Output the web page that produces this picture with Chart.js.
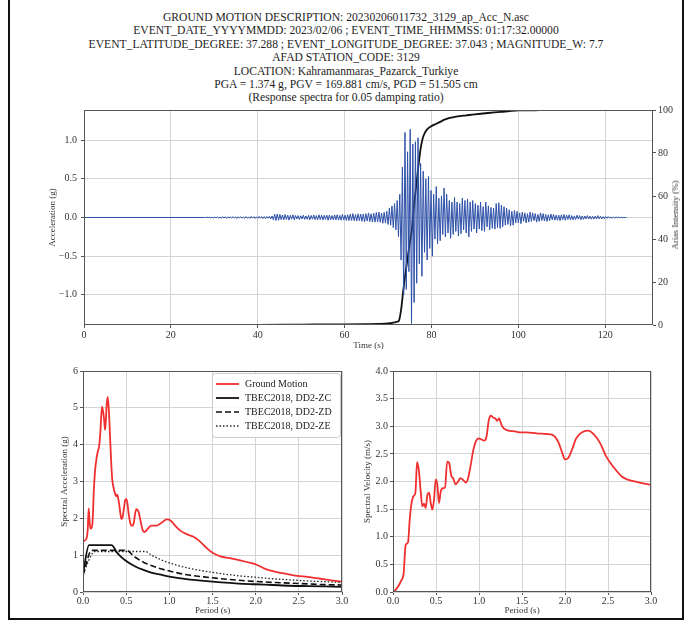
<!DOCTYPE html>
<html>
<head>
<meta charset="utf-8">
<script src="https://cdn.jsdelivr.net/npm/chart.js@4.4.0/dist/chart.umd.min.js"></script>
<style>
  body { margin: 0; background: #fff; width: 687px; height: 623px; position: relative; overflow: hidden; font-family: 'Liberation Serif', 'Times New Roman', serif; }
  #frame { position: absolute; left: 8px; top: -4px; width: 676px; height: 624px; border: 2px solid #111; box-sizing: border-box; pointer-events: none; }
  #title { position: absolute; left: 0; width: 692px; top: 11px; text-align: center; font-size: 11.6px; line-height: 13.4px; color: #1e1e1e; }
  #ariasLabel { position: absolute; left: 675px; top: 215px; transform: translate(-50%, -50%) rotate(-90deg); font-size: 9px; color: #333; white-space: nowrap; }
  canvas { position: absolute; }
</style>
</head>
<body>
<div id="title">
  GROUND MOTION DESCRIPTION: 20230206011732_3129_ap_Acc_N.asc<br>
  EVENT_DATE_YYYYMMDD: 2023/02/06 ; EVENT_TIME_HHMMSS: 01:17:32.00000<br>
  EVENT_LATITUDE_DEGREE: 37.288 ; EVENT_LONGITUDE_DEGREE: 37.043 ; MAGNITUDE_W: 7.7<br>
  AFAD STATION_CODE: 3129<br>
  LOCATION: Kahramanmaras_Pazarck_Turkiye<br>
  PGA = 1.374 g, PGV = 169.881 cm/s, PGD = 51.505 cm<br>
  (Response spectra for 0.05 damping ratio)
</div>
<canvas id="accChart" width="677" height="255" style="left:10px;top:100px"></canvas>
<div id="ariasLabel">Arias Intensity (%)</div>
<canvas id="saChart" width="340" height="260" style="left:10px;top:360px"></canvas>
<canvas id="svChart" width="335" height="260" style="left:350px;top:360px"></canvas>
<div id="frame"></div>

<script>
// ---- acceleration record (g), sampled every 0.3 s from 28 s ----
const quietTime = [0, 27.7]
const quietAcc = [0, 0]
const accStart = 28
const accStep = 0.3
const accValues = [
  0, 0.004, -0.003, 0.005, -0.004, 0.003, -0.006, 0.004, -0.002, 0.005,
  -0.008, 0.006, -0.01, 0.012, -0.007, 0.009, -0.011, 0.008, -0.005, 0.007,
  -0.009, 0.011, -0.006, 0.008, -0.012, 0.01, -0.007, 0.009, -0.008, 0.006,
  -0.01, 0.012, -0.009, 0.007, -0.011, 0.013, -0.008, 0.01, -0.012, 0.009,
  -0.011, 0.014, -0.01, 0.012, -0.013, 0.011, -0.015, 0.012, -0.01, 0.016,
  -0.018, 0.02, -0.03, 0.042, -0.038, 0.045, -0.035, 0.04, -0.028, 0.032,
  -0.03, 0.038, -0.025, 0.03, -0.034, 0.028, -0.022, 0.035, -0.03, 0.026,
  -0.02, 0.025, -0.028, 0.022, -0.018, 0.03, -0.025, 0.02, -0.024, 0.028,
  -0.03, 0.026, -0.022, 0.032, -0.028, 0.024, -0.03, 0.035, -0.026, 0.03,
  -0.032, 0.028, -0.025, 0.03, -0.036, 0.032, -0.028, 0.025, -0.03, 0.034,
  -0.03, 0.036, -0.033, 0.028, -0.035, 0.04, -0.032, 0.03, -0.038, 0.035,
  -0.04, 0.045, -0.038, 0.05, -0.042, 0.038, -0.045, 0.048, -0.04, 0.044,
  -0.05, 0.046, -0.055, 0.05, -0.045, 0.06, -0.052, 0.048, -0.058, 0.055,
  -0.06, 0.065, -0.055, 0.07, -0.062, 0.058, -0.075, 0.068, -0.07, 0.08,
  -0.09, 0.12, -0.1, 0.15, -0.13, 0.18, -0.16, 0.22, -0.25, 0.3,
  -0.55, 0.65, -1.0, 1.1, -0.93, 0.85, -0.7, 1.14, -1.37, 0.95,
  -1.1, 0.98, -0.85, 1.03, -0.6, 0.7, -0.76, 0.6, -0.45, 0.5,
  -0.55, 0.53, -0.4, 0.35, -0.5, 0.3, -0.28, 0.4, -0.34, 0.25,
  -0.3, 0.28, -0.22, 0.38, -0.25, 0.3, -0.2, 0.22, -0.27, 0.2,
  -0.22, 0.26, -0.18, 0.2, -0.24, 0.18, -0.21, 0.25, -0.16, 0.22,
  -0.2, 0.24, -0.25, 0.2, -0.18, 0.22, -0.15, 0.18, -0.2, 0.16,
  -0.15, 0.2, -0.17, 0.14, -0.18, 0.2, -0.12, 0.15, -0.16, 0.13,
  -0.14, 0.12, -0.15, 0.18, -0.13, 0.19, -0.14, 0.16, -0.12, 0.14,
  -0.1, 0.12, -0.09, 0.1, -0.11, 0.08, -0.1, 0.09, -0.07, 0.08,
  -0.07, 0.06, -0.08, 0.07, -0.05, 0.06, -0.07, 0.05, -0.06, 0.07,
  -0.05, 0.06, -0.04, 0.05, -0.06, 0.04, -0.05, 0.06, -0.04, 0.05,
  -0.045, 0.04, -0.05, 0.035, -0.04, 0.045, -0.03, 0.04, -0.035, 0.03,
  -0.035, 0.03, -0.04, 0.035, -0.03, 0.04, -0.035, 0.03, -0.025, 0.035,
  -0.03, 0.025, -0.03, 0.02, -0.025, 0.03, -0.02, 0.025, -0.03, 0.02,
  -0.025, 0.02, -0.018, 0.025, -0.02, 0.018, -0.022, 0.015, -0.02, 0.018,
  -0.02, 0.025, -0.018, 0.015, -0.02, 0.012, -0.015, 0.012, -0.01, 0.012,
  -0.01, 0.008, -0.01, 0.007, -0.006, 0.008, -0.005, 0.006, -0.004, 0.003,
  -0.003, 0.002, -0.001, 0
]

// ---- Arias intensity (%) ----
const ariasTime = [0, 20, 40, 50, 60, 65, 68, 70, 71, 72, 72.5, 73, 73.5, 74, 74.5, 75, 75.5, 76, 76.5, 77,
  77.5, 78, 78.5, 79, 80, 81, 82, 83, 84, 86, 88, 90, 93, 96, 98, 100, 105, 110, 125]
const ariasValues = [0, 0, 0.1, 0.2, 0.3, 0.4, 0.5, 0.7, 1.0, 1.5, 2, 7, 16, 24, 31, 38, 45, 56, 65, 74,
  82, 87, 89.5, 91, 92.5, 93.5, 94.5, 95.5, 96.2, 97, 97.5, 98, 98.6, 99.1, 99.5, 99.8, 99.9, 100, 100]

// ---- spectral acceleration (g) ----
const saPeriod = [
  0.0, 0.02, 0.04, 0.055, 0.066, 0.078, 0.09, 0.105, 0.115, 0.124,
  0.14, 0.155, 0.17, 0.186, 0.2, 0.22, 0.232, 0.244, 0.255, 0.263,
  0.275, 0.286, 0.298, 0.31, 0.325, 0.337, 0.352, 0.368, 0.382, 0.395,
  0.405, 0.418, 0.432, 0.445, 0.46, 0.476, 0.49, 0.503, 0.515, 0.53,
  0.545, 0.56, 0.575, 0.59, 0.605, 0.62, 0.635, 0.647, 0.665, 0.68,
  0.695, 0.71, 0.73, 0.755, 0.79, 0.85, 0.91, 0.97, 1.01, 1.06,
  1.12, 1.2, 1.28, 1.35, 1.43, 1.51, 1.59, 1.7, 1.82, 1.94,
  2.01, 2.11, 2.21, 2.36, 2.48, 2.6, 2.75, 2.9, 3.0
]
const saGround = [
  1.37, 1.4, 1.45, 1.7, 2.27, 1.85, 1.72, 1.78, 2.1, 2.7,
  3.3, 3.6, 3.8, 3.95, 4.3, 5.03, 4.9, 4.7, 4.4, 4.6,
  5.1, 5.3, 5.0, 4.4, 3.6, 3.1, 2.85, 2.7, 2.6, 2.64,
  2.58, 2.4, 2.15, 1.98, 2.05, 2.3, 2.5, 2.52, 2.4, 2.1,
  1.9, 1.8, 1.8, 1.9, 2.15, 2.25, 2.22, 2.15, 1.95, 1.78,
  1.66, 1.63, 1.66, 1.73, 1.8, 1.8, 1.88, 1.97, 1.95, 1.82,
  1.68, 1.57, 1.5, 1.38, 1.2, 1.05, 0.97, 0.92, 0.86, 0.79,
  0.74, 0.63, 0.56, 0.49, 0.44, 0.41, 0.36, 0.31, 0.28
]
const zcPeriod = [0, 0.07, 0.33, 0.4, 0.5, 0.6, 0.7, 0.8, 0.9, 1.0, 1.2, 1.4, 1.6, 1.8, 2.0, 2.2, 2.4, 2.6, 2.8, 3.0]
const zcSa = [0.5, 1.27, 1.27, 1.05, 0.84, 0.7, 0.6, 0.52, 0.47, 0.42, 0.35, 0.3, 0.26, 0.23, 0.21, 0.19, 0.17, 0.16, 0.15, 0.14]
const zdPeriod = [0, 0.1, 0.5, 0.6, 0.7, 0.8, 0.9, 1.0, 1.2, 1.4, 1.6, 1.8, 2.0, 2.2, 2.4, 2.6, 2.8, 3.0]
const zdSa = [0.45, 1.13, 1.13, 0.95, 0.81, 0.71, 0.63, 0.57, 0.47, 0.41, 0.36, 0.32, 0.285, 0.26, 0.24, 0.22, 0.2, 0.19]
const zePeriod = [0, 0.14, 0.72, 0.8, 0.9, 1.0, 1.2, 1.4, 1.6, 1.8, 2.0, 2.2, 2.4, 2.6, 2.8, 3.0]
const zeSa = [0.5, 1.1, 1.1, 0.99, 0.88, 0.79, 0.66, 0.57, 0.5, 0.44, 0.4, 0.36, 0.33, 0.3, 0.28, 0.26]

// ---- spectral velocity (m/s) ----
const svPeriod = [
  0, 0.047, 0.097, 0.124, 0.147, 0.175, 0.194, 0.213, 0.24, 0.26,
  0.28, 0.3, 0.322, 0.341, 0.361, 0.38, 0.4, 0.42, 0.438, 0.458,
  0.477, 0.497, 0.516, 0.535, 0.555, 0.582, 0.605, 0.63, 0.652, 0.68,
  0.7, 0.726, 0.757, 0.784, 0.815, 0.846, 0.873, 0.904, 0.93, 0.962,
  0.997, 1.03, 1.06, 1.087, 1.114, 1.137, 1.164, 1.19, 1.21, 1.233,
  1.26, 1.288, 1.34, 1.4, 1.475, 1.55, 1.67, 1.785, 1.86, 1.92,
  1.97, 2.0, 2.04, 2.08, 2.13, 2.21, 2.27, 2.33, 2.41, 2.48,
  2.56, 2.66, 2.72, 2.87, 3.0
]
const svValues = [
  0, 0.07, 0.21, 0.34, 0.85, 0.9, 1.3, 1.58, 1.74, 1.79,
  2.35, 2.21, 1.82, 1.55, 1.6, 1.52, 1.76, 1.8, 1.62, 1.49,
  1.67, 2.04, 1.94, 1.61, 1.82, 1.88, 1.89, 2.36, 2.34, 2.09,
  2.06, 1.95, 2.0, 2.06, 2.03, 1.98, 2.06, 2.3, 2.54, 2.72,
  2.78, 2.76, 2.74, 2.81, 3.11, 3.19, 3.16, 3.14, 3.1, 3.14,
  3.03, 2.96, 2.92, 2.91, 2.89, 2.89, 2.87, 2.86, 2.84, 2.72,
  2.51, 2.4, 2.43, 2.57, 2.78, 2.9, 2.92, 2.86, 2.69, 2.45,
  2.27, 2.09, 2.04, 1.98, 1.94
]

// tick positions
const timeTicks = [0, 20, 40, 60, 80, 100, 120]
const accTicks = [-1.0, -0.5, 0.0, 0.5, 1.0]
const ariasTicks = [0, 20, 40, 60, 80, 100]
const periodTicks = [0, 0.5, 1.0, 1.5, 2.0, 2.5, 3.0]
const saTicks = [0, 1, 2, 3, 4, 5, 6]
const svTicks = [0, 0.5, 1.0, 1.5, 2.0, 2.5, 3.0, 3.5, 4.0]

const serif = "'Liberation Serif', 'Times New Roman', serif"
Chart.defaults.font.family = serif
Chart.defaults.color = '#333'
Chart.defaults.animation = false

const gridColor = '#d4d4d4'
const spineColor = '#555'
const red = '#f03030'
// matplotlib style: one decimal and a real minus sign
const oneDecimal = v => (v < 0 ? '\u2212' : '') + Math.abs(v).toFixed(1)

function pts(xs, ys) {
  return xs.map((x, i) => ({ x: x, y: ys[i] }))
}

function setTicks(values) {
  return scale => { scale.ticks = values.map(v => ({ value: v })) }
}

// draw all four spines like matplotlib
const spines = {
  id: 'spines',
  afterDraw(chart) {
    const a = chart.chartArea
    const ctx = chart.ctx
    ctx.save()
    ctx.strokeStyle = spineColor
    ctx.lineWidth = 1
    ctx.strokeRect(Math.round(a.left) + 0.5, Math.round(a.top) + 0.5, Math.round(a.right - a.left) - 1, Math.round(a.bottom - a.top) - 1)
    ctx.restore()
  }
}

// legend drawn inside the plot, upper right
const insideLegend = {
  id: 'insideLegend',
  afterDraw(chart) {
    const a = chart.chartArea
    const ctx = chart.ctx
    const w = 128, h = 64
    const x = a.right - w - 2, y = a.top + 2
    ctx.save()
    ctx.fillStyle = 'rgba(255,255,255,0.85)'
    ctx.strokeStyle = '#cccccc'
    ctx.lineWidth = 1
    ctx.beginPath()
    ctx.roundRect(x + 0.5, y + 0.5, w, h, 3)
    ctx.fill()
    ctx.stroke()
    ctx.font = '10px ' + serif
    ctx.textBaseline = 'middle'
    chart.data.datasets.forEach((ds, i) => {
      const ly = y + 11 + i * 14
      ctx.strokeStyle = ds.borderColor
      ctx.lineWidth = ds.borderWidth
      ctx.setLineDash(ds.borderDash || [])
      ctx.beginPath()
      ctx.moveTo(x + 4, ly)
      ctx.lineTo(x + 27, ly)
      ctx.stroke()
      ctx.setLineDash([])
      ctx.fillStyle = '#222'
      ctx.fillText(ds.label, x + 33, ly)
    })
    ctx.restore()
  }
}

function axis(opts) {
  return {
    type: 'linear',
    position: opts.position,
    min: opts.min,
    max: opts.max,
    afterBuildTicks: setTicks(opts.ticks),
    afterFit: opts.fit,
    border: { display: false },
    grid: {
      display: true,
      drawOnChartArea: opts.grid !== false,
      color: gridColor,
      lineWidth: 1,
      tickLength: 3,
      tickColor: spineColor
    },
    ticks: {
      padding: opts.tickPad,
      color: '#333',
      font: { size: 10, family: serif },
      callback: opts.fmt
    },
    title: {
      display: !!opts.title,
      text: opts.title,
      color: '#333',
      font: { size: 9, family: serif },
      padding: opts.titlePad || 0
    }
  }
}

new Chart(document.getElementById('accChart'), {
  type: 'line',
  data: {
    datasets: [
      {
        label: 'Acceleration',
        data: pts(quietTime, quietAcc).concat(accValues.map((v, i) => ({ x: accStart + i * accStep, y: v }))),
        borderColor: '#2d50a8',
        borderWidth: 1,
        pointRadius: 0,
        yAxisID: 'y'
      },
      {
        label: 'Arias Intensity',
        data: pts(ariasTime, ariasValues),
        borderColor: '#111',
        borderWidth: 1.8,
        pointRadius: 0,
        cubicInterpolationMode: 'monotone',
        yAxisID: 'y1'
      }
    ]
  },
  options: {
    responsive: false,
    layout: { padding: { top: 5, left: 0, right: 0, bottom: 0 } },
    plugins: { legend: { display: false }, tooltip: { enabled: false } },
    scales: {
      x: axis({ position: 'bottom', min: 0, max: 131, ticks: timeTicks, fmt: v => v, tickPad: 1,
        title: 'Time (s)', titlePad: { top: 0, bottom: 4 }, fit: s => { s.height = 30 } }),
      y: axis({ position: 'left', min: -1.39, max: 1.39, ticks: accTicks, fmt: oneDecimal, tickPad: 4,
        title: 'Acceleration (g)', titlePad: { top: 37, bottom: 0 }, fit: s => { s.width = 74 } }),
      y1: axis({ position: 'right', min: 0, max: 100, ticks: ariasTicks, fmt: v => v, tickPad: 2, grid: false,
        fit: s => { s.width = 34 } })
    }
  },
  plugins: [spines]
})

new Chart(document.getElementById('saChart'), {
  type: 'line',
  data: {
    datasets: [
      { label: 'Ground Motion', data: pts(saPeriod, saGround), borderColor: red, borderWidth: 1.8 },
      { label: 'TBEC2018, DD2-ZC', data: pts(zcPeriod, zcSa), borderColor: '#111', borderWidth: 1.8 },
      { label: 'TBEC2018, DD2-ZD', data: pts(zdPeriod, zdSa), borderColor: '#111', borderWidth: 1.6, borderDash: [6, 3] },
      { label: 'TBEC2018, DD2-ZE', data: pts(zePeriod, zeSa), borderColor: '#222', borderWidth: 1.3, borderDash: [1.5, 2] }
    ]
  },
  options: {
    responsive: false,
    layout: { padding: { top: 11, left: 0, right: 8, bottom: 0 } },
    elements: { point: { radius: 0 }, line: { cubicInterpolationMode: 'monotone' } },
    plugins: { legend: { display: false }, tooltip: { enabled: false } },
    scales: {
      x: axis({ position: 'bottom', min: 0, max: 3, ticks: periodTicks, fmt: oneDecimal, tickPad: 0,
        title: 'Period (s)', titlePad: { top: 0, bottom: 4 }, fit: s => { s.height = 28 } }),
      y: axis({ position: 'left', min: 0, max: 6, ticks: saTicks, fmt: v => v, tickPad: 2,
        title: 'Spectral Acceleration (g)', titlePad: { top: 49, bottom: 0 }, fit: s => { s.width = 73 } })
    }
  },
  plugins: [spines, insideLegend]
})

new Chart(document.getElementById('svChart'), {
  type: 'line',
  data: {
    datasets: [
      { label: 'Spectral Velocity', data: pts(svPeriod, svValues), borderColor: red, borderWidth: 1.8 }
    ]
  },
  options: {
    responsive: false,
    layout: { padding: { top: 11, left: 0, right: 34, bottom: 0 } },
    elements: { point: { radius: 0 }, line: { cubicInterpolationMode: 'monotone' } },
    plugins: { legend: { display: false }, tooltip: { enabled: false } },
    scales: {
      x: axis({ position: 'bottom', min: 0, max: 3, ticks: periodTicks, fmt: oneDecimal, tickPad: 0,
        title: 'Period (s)', titlePad: { top: 0, bottom: 4 }, fit: s => { s.height = 28 } }),
      y: axis({ position: 'left', min: 0, max: 4, ticks: svTicks, fmt: oneDecimal, tickPad: 2,
        title: 'Spectral Velocity (m/s)', titlePad: { top: 12, bottom: 0 }, fit: s => { s.width = 43 } })
    }
  },
  plugins: [spines]
})
</script>
</body>
</html>
